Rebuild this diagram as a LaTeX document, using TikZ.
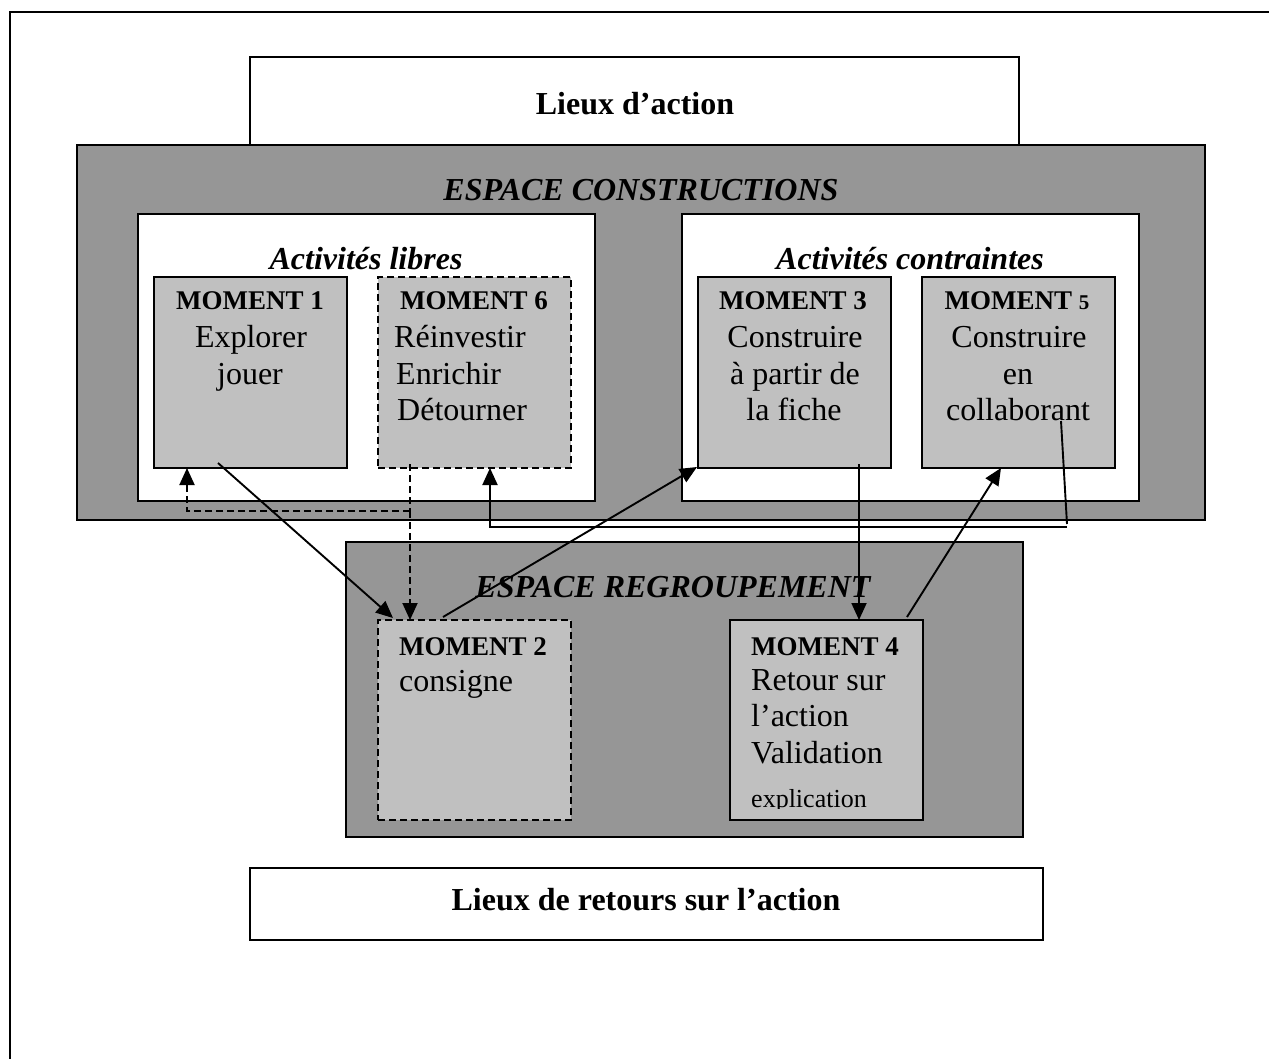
\documentclass[tikz,border=0pt]{standalone}
\usepackage{fontspec}
\setmainfont{Liberation Serif}
\usetikzlibrary{arrows.meta,calc}
\definecolor{darkg}{RGB}{150,150,150}
\definecolor{lightg}{RGB}{192,192,192}
\begin{document}
\begin{tikzpicture}[x=1pt,y=-1pt,
  boxa/.style={draw=black,line width=2pt,inner sep=0pt,outer sep=0pt,anchor=north west},
  space/.style={boxa,fill=darkg},
  wbox/.style={boxa,fill=white},
  mbox/.style={boxa,fill=lightg,minimum width=193pt},
  dbox/.style={mbox,dash pattern=on 7pt off 4pt},
  txt/.style={inner sep=0pt,font=\fontsize{32}{36}\selectfont},
  mom/.style={inner sep=0pt,font=\fontsize{27}{31}\selectfont\bfseries},
  ttl/.style={inner sep=0pt,anchor=base,font=\fontsize{32}{36}\selectfont\bfseries\itshape},
  btl/.style={inner sep=0pt,anchor=base,font=\fontsize{32}{36}\selectfont\bfseries},
  conn/.style={line width=1.9pt,-{Triangle[length=17pt,width=15pt]}},
  dconn/.style={conn,dash pattern=on 7pt off 4pt},
  dline/.style={line width=1.9pt,dash pattern=on 7pt off 4pt}]
\useasboundingbox (0,0) rectangle (1269,1059);
\fill[white] (0,0) rectangle (1269,1059);
% outer frame (open at right and bottom)
\draw[line width=2.2pt] (10,1065) -- (10,12) -- (1275,12);

% top box
\node[wbox,minimum width=769pt,minimum height=100pt] (top) at (250,57) {};
\node[btl] (toptxt) at (635,115) {Lieux d’action};

% espace constructions
\node[space,minimum width=1128pt,minimum height=375pt] (ec) at (77,145) {};
\node[ttl] (ectxt) at (641,201) {ESPACE CONSTRUCTIONS};
\node[wbox,minimum width=457pt,minimum height=287pt] (libres) at (138,214) {};
\node[wbox,minimum width=457pt,minimum height=287pt] (contr) at (682,214) {};
\node[ttl] (librestxt) at (366,270) {Activités libres};
\node[ttl] (contrtxt) at (910,270) {Activités contraintes};

\node[mbox,minimum height=191pt] (m1) at (154,277) {};
\node[dbox,minimum height=191pt] (m6) at (378,277) {};
\node[mbox,minimum height=191pt] (m3) at (698,277) {};
\node[mbox,minimum height=191pt] (m5) at (922,277) {};

% moment 1
\node[mom,anchor=base] (m1h) at (250,310) {MOMENT 1};
\node[txt,anchor=base] (m1a) at (251,347) {Explorer};
\node[txt,anchor=base] (m1b) at (250,384) {jouer};
% moment 6
\node[mom,anchor=base west] (m6h) at (400,310) {MOMENT 6};
\node[txt,anchor=base west] (m6a) at (394,347) {Réinvestir};
\node[txt,anchor=base west] (m6b) at (396,384) {Enrichir};
\node[txt,anchor=base west] (m6c) at (397,420) {Détourner};
% moment 3
\node[mom,anchor=base] (m3h) at (793,310) {MOMENT 3};
\node[txt,anchor=base] (m3a) at (795,347) {Construire};
\node[txt,anchor=base] (m3b) at (795,384) {à partir de};
\node[txt,anchor=base] (m3c) at (794,420) {la fiche};
% moment 5
\node[mom,anchor=base] (m5h) at (1017,310) {MOMENT {\fontsize{21}{24}\selectfont 5}};
\node[txt,anchor=base] (m5a) at (1019,347) {Construire};
\node[txt,anchor=base] (m5b) at (1018,384) {en};
\node[txt,anchor=base] (m5c) at (1018,420) {collaborant};

% espace regroupement
\node[space,minimum width=677pt,minimum height=295pt] (er) at (346,542) {};
\node[ttl] (ertxt) at (673,597) {ESPACE REGROUPEMENT};
\node[dbox,minimum height=200pt] (m2) at (378,620) {};
\node[mbox,minimum height=200pt] (m4) at (730,620) {};
\node[mom,anchor=base west] (m2h) at (399,655) {MOMENT 2};
\node[txt,anchor=base west] (m2a) at (399,691) {consigne};
\node[mom,anchor=base west] (m4h) at (751,655) {MOMENT 4};
\node[txt,anchor=base west] (m4a) at (751,690) {Retour sur};
\node[txt,anchor=base west] (m4b) at (751,726) {l’action};
\node[txt,anchor=base west] (m4c) at (751,763) {Validation};
\begin{scope}
  \clip (731,621) rectangle (921,808);
  \node[inner sep=0pt,anchor=base west,font=\fontsize{26}{30}\selectfont] (m4d) at (751,807) {explication};
\end{scope}

% bottom box
\node[wbox,line width=1.6pt,minimum width=793pt,minimum height=72pt] (bot) at (250,868) {};
\node[btl] (bottxt) at (646,910) {Lieux de retours sur l’action};

% connectors
\coordinate (j1) at ([xshift=32pt,yshift=-43pt]m6.south west);
\draw[dline] ([xshift=32pt,yshift=4pt]m6.south west) -- (j1);
\draw[dconn] (j1) -- ([xshift=32pt]m2.north west);
\draw[dconn] (j1) -| ([xshift=33pt]m1.south west);
\draw[conn] ([xshift=64pt,yshift=5pt]m1.south west) -- ([xshift=15pt,yshift=2pt]m2.north west);
\draw[conn] ([xshift=65pt,yshift=3pt]m2.north west) -- ([xshift=-1pt,yshift=1pt]m3.south west);
\draw[conn] ([xshift=-32pt,yshift=4pt]m3.south east) -- ([xshift=-32pt]m3.south east |- m4.north);
\draw[conn] ([xshift=-16pt,yshift=3pt]m4.north east) -- ([xshift=79pt]m5.south west);
\coordinate (j2) at (1067,527);
\draw[line width=1.9pt] ([xshift=-54pt,yshift=47pt]m5.south east) -- ([yshift=3pt]j2);
\draw[conn] (j2) -| ([xshift=112pt]m6.south west);
\end{tikzpicture}
\end{document}
